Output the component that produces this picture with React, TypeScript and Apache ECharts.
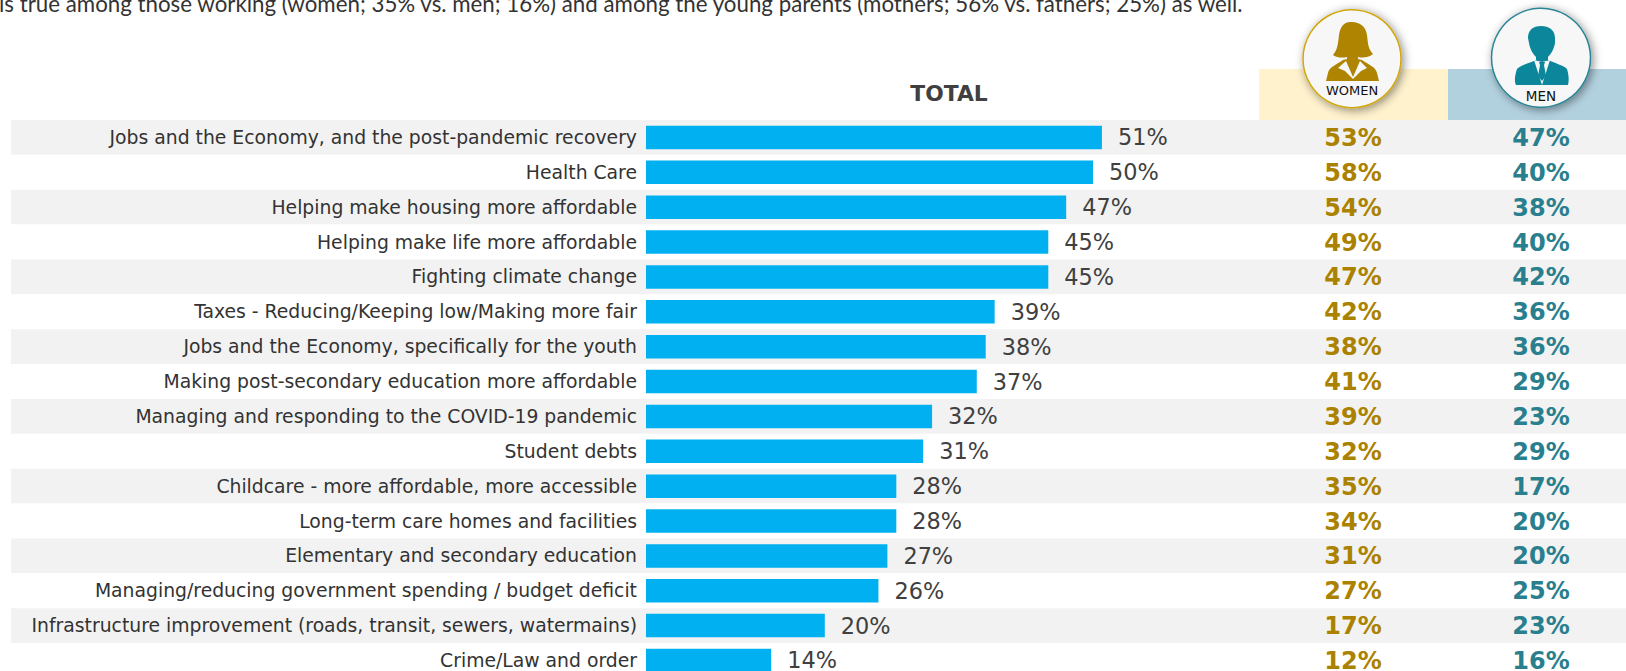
import React, { useEffect, useRef } from "react";
import * as echarts from "echarts";

const categories = [
  "Jobs and the Economy, and the post-pandemic recovery",
  "Health Care",
  "Helping make housing more affordable",
  "Helping make life more affordable",
  "Fighting climate change",
  "Taxes - Reducing/Keeping low/Making more fair",
  "Jobs and the Economy, specifically for the youth",
  "Making post-secondary education more affordable",
  "Managing and responding to the COVID-19 pandemic",
  "Student debts",
  "Childcare - more affordable, more accessible",
  "Long-term care homes and facilities",
  "Elementary and secondary education",
  "Managing/reducing government spending / budget deficit",
  "Infrastructure improvement (roads, transit, sewers, watermains)",
  "Crime/Law and order",
];
const totalValues = [51, 50, 47, 45, 45, 39, 38, 37, 32, 31, 28, 28, 27, 26, 20, 14];
const womenValues = [53, 58, 54, 49, 47, 42, 38, 41, 39, 32, 35, 34, 31, 27, 17, 12];
const menValues = [47, 40, 38, 40, 42, 36, 36, 29, 23, 29, 17, 20, 20, 25, 23, 16];
const introText =
  "is true among those working (women; 35% vs. men; 16%) and among the young parents (mothers; 56% vs. fathers; 25%) as well.";

const FONT = "'DejaVu Sans', Verdana, sans-serif";
const GRID_TOP = 120;
const ROW = 34.87;
const GRID_H = ROW * categories.length;

// Person silhouettes, in a 105-unit box
const WOMAN_D =
  "M52 17 C44 16 40 22 39 30 C38 38 38 44 33 50 C37 53 43 53 47 52 L47 54 L43 55 C36 60 29 62 28 68 L26 76 L79 76 L77 68 C76 62 69 60 62 55 L58 54 L58 52 C62 53 68 53 73 49 C68 44 68 38 67 30 C66 22 60 17 52 17 Z";
const WOMAN_COLLAR_D = "M38 63 L46 56 L53 72 L60 56 L67 63 L61 66 L53 74 L45 66 Z";
const MAN_D =
  "M51 21 C43 21 38 25 38 33 L39 38 C40 45 44 50 46 52 L46 55 C40 58 31 60 27 64 C25 70 24 76 26 80 L78 80 C79 76 79 70 77 64 C73 60 64 58 58 55 L58 52 C60 50 64 45 65 38 L65 33 C65 25 59 21 51 21 Z";
const MAN_SHIRT_D = "M44 55 L52 80 L60 55 L52 57 Z";
const MAN_TIE_D = "M49 57 L55 57 L54 60 L56 71 L52 76 L48 71 L50 60 Z";
echarts.graphic.registerShape("womanIcon", echarts.graphic.extendPath(WOMAN_D, {}) as any);
echarts.graphic.registerShape("womanCollar", echarts.graphic.extendPath(WOMAN_COLLAR_D, {}) as any);
echarts.graphic.registerShape("manIcon", echarts.graphic.extendPath(MAN_D, {}) as any);
echarts.graphic.registerShape("manShirt", echarts.graphic.extendPath(MAN_SHIRT_D, {}) as any);
echarts.graphic.registerShape("manTie", echarts.graphic.extendPath(MAN_TIE_D, {}) as any);

const valueColumn = (index: number, values: number[], color: string) => ({
  type: "scatter",
  xAxisIndex: index,
  yAxisIndex: index,
  symbolSize: 0,
  silent: true,
  itemStyle: { opacity: 1 },
  data: values.map((v, i) => ({ value: [0, i], pct: v })),
  label: {
    show: true,
    position: "inside",
    offset: [0, 0.5],
    opacity: 1,
    formatter: (p: any) => `${p.data.pct}%`,
    fontFamily: FONT,
    fontWeight: "bold",
    fontSize: 24,
    color,
  },
});

export default function App() {
  const ref = useRef<HTMLDivElement>(null);
  useEffect(() => {
    document.body.style.margin = "0";
    const chart = echarts.init(ref.current!, null, { renderer: "svg" });
    const hiddenValueAxis = (gridIndex: number, min: number, max: number) => ({
      type: "value",
      gridIndex,
      min,
      max,
      show: false,
    });
    const hiddenCategoryAxis = (gridIndex: number) => ({
      type: "category",
      gridIndex,
      inverse: true,
      data: categories,
      axisLine: { show: false },
      axisTick: { show: false },
      axisLabel: { show: false },
    });
    chart.setOption({
      animation: false,
      backgroundColor: "#ffffff",
      grid: [
        { left: 646, top: GRID_TOP, width: 894, height: GRID_H, z: 2 },
        { left: 1259, top: GRID_TOP, width: 188, height: GRID_H, z: 2 },
        { left: 1448, top: GRID_TOP, width: 186, height: GRID_H, z: 2 },
        { left: 11, top: GRID_TOP, width: 1615, height: GRID_H, z: 0 },
      ],
      xAxis: [
        hiddenValueAxis(0, 0, 100),
        hiddenValueAxis(1, -1, 1),
        hiddenValueAxis(2, -1, 1),
        hiddenValueAxis(3, 0, 1),
      ],
      yAxis: [
        {
          ...hiddenCategoryAxis(0),
          axisLabel: {
            show: true,
            interval: 0,
            margin: 9,
            padding: [6, 0, 0, 0],
            fontFamily: FONT,
            fontSize: 18.8,
            color: "#333333",
          },
        },
        hiddenCategoryAxis(1),
        hiddenCategoryAxis(2),
        {
          ...hiddenCategoryAxis(3),
          splitArea: {
            show: true,
            interval: 0,
            areaStyle: { color: ["#f2f2f2", "#ffffff"] },
          },
        },
      ],
      series: [
        {
          type: "bar",
          xAxisIndex: 0,
          yAxisIndex: 0,
          data: totalValues,
          barWidth: 23.5,
          itemStyle: { color: "#00b0f0" },
          z: 3,
          label: {
            show: true,
            position: "right",
            distance: 16,
            formatter: "{c}%",
            fontFamily: FONT,
            fontSize: 22.4,
            color: "#404040",
          },
        },
        valueColumn(1, womenValues, "#ab8200"),
        valueColumn(2, menValues, "#2a7f8e"),
      ],
      graphic: [
        {
          type: "text",
          x: -1,
          y: -8,
          style: { text: introText, font: "22.3px Lato, sans-serif", fill: "#333333" },
        },
        {
          type: "text",
          x: 949,
          y: 93,
          style: {
            text: "TOTAL",
            font: `bold 21.8px ${FONT}`,
            fill: "#404040",
            align: "center",
            verticalAlign: "middle",
          },
        },
        { type: "rect", z: 1, shape: { x: 1259, y: 69, width: 189, height: 51 }, style: { fill: "#fff2cd" } },
        { type: "rect", z: 1, shape: { x: 1448, y: 69, width: 178, height: 51 }, style: { fill: "#b2d1df" } },
        {
          type: "circle",
          z: 5,
          shape: { cx: 1352, cy: 58.7, r: 49 },
          style: {
            fill: "#f7f7f7",
            stroke: "#d1a70e",
            lineWidth: 1.5,
            shadowBlur: 10,
            shadowColor: "rgba(0,0,0,0.45)",
            shadowOffsetX: 2,
            shadowOffsetY: 2,
          },
        },
        {
          type: "circle",
          z: 5,
          shape: { cx: 1541, cy: 57.7, r: 49.5 },
          style: {
            fill: "#f7f7f7",
            stroke: "#2a8596",
            lineWidth: 1.5,
            shadowBlur: 10,
            shadowColor: "rgba(0,0,0,0.45)",
            shadowOffsetX: 2,
            shadowOffsetY: 2,
          },
        },
        { type: "womanIcon", z: 6, x: 1300, y: 5, style: { fill: "#ae8400" } },
        { type: "womanCollar", z: 7, x: 1300, y: 5, style: { fill: "#f7f7f7" } },
        { type: "manIcon", z: 6, x: 1490, y: 5, style: { fill: "#0b869b" } },
        { type: "manShirt", z: 7, x: 1490, y: 5, style: { fill: "#f7f7f7" } },
        { type: "manTie", z: 8, x: 1490, y: 5, style: { fill: "#0b869b" } },
        {
          type: "text",
          z: 8,
          x: 1352,
          y: 90,
          style: { text: "WOMEN", font: `13px ${FONT}`, fill: "#111111", align: "center", verticalAlign: "middle" },
        },
        {
          type: "text",
          z: 8,
          x: 1541,
          y: 96,
          style: { text: "MEN", font: `13.5px ${FONT}`, fill: "#111111", align: "center", verticalAlign: "middle" },
        },
      ],
    });
    return () => chart.dispose();
  }, []);
  // The last row runs past the bottom of the page, so the canvas is taller than its clipping frame
  return (
    <div style={{ width: 1626, height: 671, overflow: "hidden" }}>
      <div ref={ref} style={{ width: 1700, height: 720 }} />
    </div>
  );
}
